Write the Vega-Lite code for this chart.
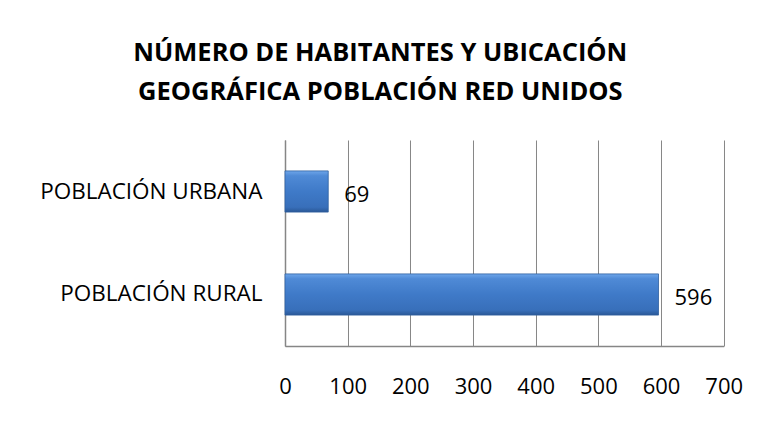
{
  "$schema": "https://vega.github.io/schema/vega-lite/v6.json",
  "width": 438.7,
  "height": 206,
  "autosize": "none",
  "padding": {"left": 285, "top": 140, "right": 33, "bottom": 77},
  "background": "white",
  "title": {
    "text": ["NÚMERO DE HABITANTES Y UBICACIÓN", "GEOGRÁFICA POBLACIÓN RED UNIDOS"],
    "font": "Open Sans",
    "fontSize": 25.5,
    "fontWeight": "bold",
    "color": "#000000",
    "lineHeight": 40,
    "anchor": "middle",
    "baseline": "alphabetic",
    "dx": -124,
    "offset": 14
  },
  "data": {
    "values": [
      {"categoria": "POBLACIÓN URBANA", "habitantes": 69},
      {"categoria": "POBLACIÓN RURAL", "habitantes": 596}
    ]
  },
  "encoding": {
    "y": {
      "field": "categoria",
      "type": "nominal",
      "sort": null,
      "scale": {"paddingInner": 0.6, "paddingOuter": 0.3},
      "axis": {
        "title": null,
        "ticks": false,
        "domainColor": "#868686",
        "domainWidth": 1.5,
        "labelFont": "Open Sans",
        "labelFontSize": 22.5,
        "labelColor": "#000000",
        "labelPadding": 23,
        "labelLimit": 400
      }
    },
    "x": {
      "field": "habitantes",
      "type": "quantitative",
      "scale": {"domain": [0, 700], "nice": false},
      "axis": {
        "title": null,
        "values": [0, 100, 200, 300, 400, 500, 600, 700],
        "ticks": false,
        "grid": true,
        "gridColor": "#868686",
        "gridWidth": 1,
        "domainColor": "#868686",
        "domainWidth": 1.5,
        "labelFont": "Open Sans",
        "labelFontSize": 22,
        "labelColor": "#000000",
        "labelBaseline": "top",
        "labelPadding": 31,
        "labelFlush": false
      }
    }
  },
  "layer": [
    {
      "mark": {
        "type": "bar",
        "color": {
          "gradient": "linear",
          "x1": 0, "y1": 0, "x2": 0, "y2": 1,
          "stops": [
            {"offset": 0, "color": "#6ea6ea"},
            {"offset": 0.12, "color": "#4f8ad6"},
            {"offset": 0.5, "color": "#3f7ac8"},
            {"offset": 0.88, "color": "#386fba"},
            {"offset": 1, "color": "#2a5896"}
          ]
        },
        "stroke": "#2f5f9f",
        "strokeWidth": 0.8
      }
    },
    {
      "mark": {
        "type": "text",
        "align": "left",
        "baseline": "middle",
        "dx": 16,
        "dy": 3.5,
        "font": "Open Sans",
        "fontSize": 22,
        "color": "#000000"
      },
      "encoding": {
        "text": {"field": "habitantes", "type": "quantitative"}
      }
    }
  ],
  "config": {
    "view": {"stroke": null}
  }
}
